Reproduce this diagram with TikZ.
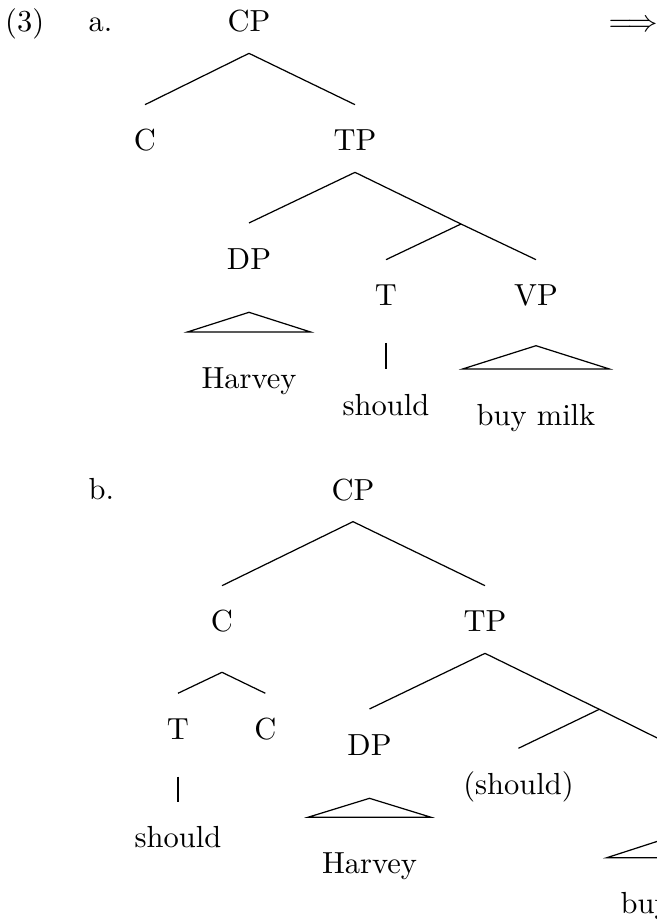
\documentclass[tikz,border=0pt]{standalone}
\usepackage{amsmath}
\tikzset{
  lbl/.style={anchor=base, inner sep=0pt, text height=8pt, text depth=0pt, inner ysep=6.9pt},
  leaf/.style={anchor=base, inner sep=0pt, inner xsep=4.35pt, text height=8pt, text depth=0pt, inner ysep=10.2pt},
  tag/.style={anchor=base west, inner sep=0pt}
}
\begin{document}
\begin{tikzpicture}[x=0.328pt,y=-0.328pt]
  \clip (0,0) rectangle (657,922);
  \node[tag] (exnum) at (4.6,31.7) {(3)};
  \node[tag] (exa) at (88,31.7) {a.};
  \node[tag] (exb) at (88,499.5) {b.};
  \node[tag] (arrow) at (608,31.7) {$\Longrightarrow$};
  \begin{scope}
    \node[lbl] (aCP) at (249,31.7) {CP};
    \node[lbl] (aC) at (145,150.7) {C};
    \node[lbl] (aTP) at (355,150.7) {TP};
    \node[lbl] (aDP) at (249,269) {DP};
    \coordinate (aTbar) at (461,224);
    \node[lbl] (aT) at (386,305.7) {T};
    \node[lbl] (aVP) at (536,305.7) {VP};
    \node[leaf] (aHarvey) at (249,388) {Harvey};
    \node[lbl] (ashould) at (386,415) {should};
    \node[leaf] (abuy) at (536,425) {buy milk};
    \coordinate (aDProof) at (249,312.3);
    \coordinate (aVProof) at (536,345.7);
    \draw (aCP.south) -- (aC.north);
    \draw (aCP.south) -- (aTP.north);
    \draw (aTP.south) -- (aDP.north);
    \draw (aTP.south) -- (aTbar) -- (aVP.north);
    \draw (aTbar) -- (aT.north);
    \draw[shorten <=5.1pt] (aT.south) -- (ashould.north);
    \draw (aDProof) -- (aHarvey.north west) -- (aHarvey.north east) -- cycle;
    \draw (aVProof) -- (abuy.north west) -- (abuy.north east) -- cycle;
  \end{scope}
  \begin{scope}
    \node[lbl] (bCP) at (353,500) {CP};
    \node[lbl] (bC) at (222,631.7) {C};
    \node[lbl] (bTP) at (485,631.7) {TP};
    \coordinate (bCadj) at (222,672.3);
    \node[lbl] (bT) at (178,739.3) {T};
    \node[lbl] (bCC) at (265.3,739.3) {C};
    \node[lbl] (bshould) at (178,847.7) {should};
    \node[lbl] (bDP) at (369.5,755) {DP};
    \coordinate (bTbar) at (599.3,709.3);
    \node[lbl] (btrace) at (518.5,794.3) {(should)};
    \coordinate (bVP) at (680,749.3);
    \node[leaf] (bHarvey) at (369.5,873.3) {Harvey};
    \node[leaf] (bbuy) at (680,913.8) {buy milk};
    \coordinate (bDProof) at (369.5,798.3);
    \coordinate (bVProof) at (680,834);
    \draw (bCP.south) -- (bC.north);
    \draw (bCP.south) -- (bTP.north);
    \draw (bCadj) -- (bT.north);
    \draw (bCadj) -- (bCC.north);
    \draw[shorten <=5.1pt] (bT.south) -- (bshould.north);
    \draw (bTP.south) -- (bDP.north);
    \draw (bTP.south) -- (bTbar) -- (bVP);
    \draw (bTbar) -- (btrace.north);
    \draw (bDProof) -- (bHarvey.north west) -- (bHarvey.north east) -- cycle;
    \draw (bVProof) -- (bbuy.north west) -- (bbuy.north east) -- cycle;
  \end{scope}
\end{tikzpicture}
\end{document}
